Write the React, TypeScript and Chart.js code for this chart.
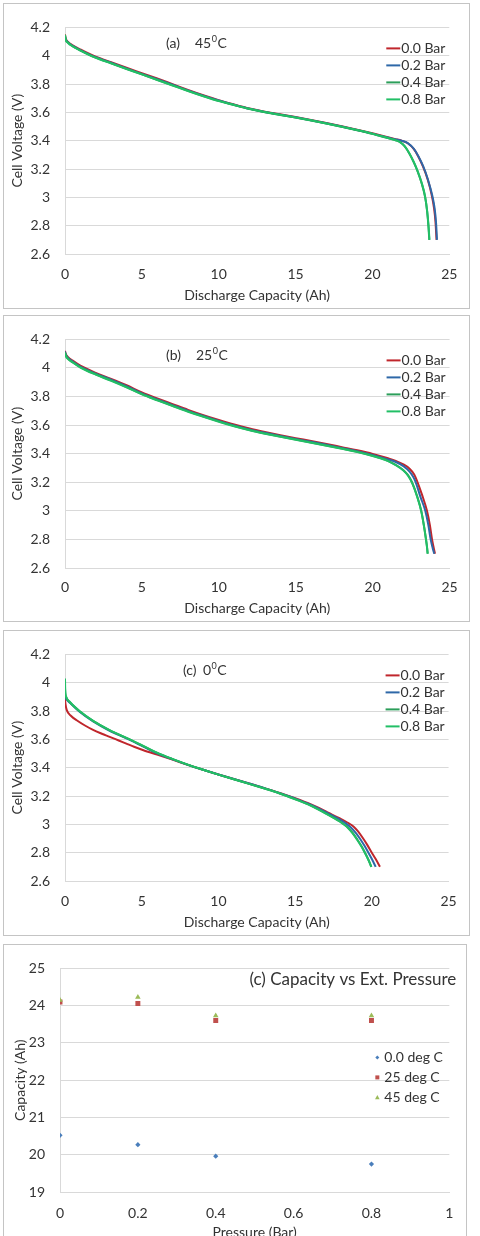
import React, { useEffect, useRef } from "react";
import { Chart, registerables } from "chart.js";

Chart.register(...registerables);

const FONT = "Lato, 'Open Sans', sans-serif";
const TEXT = "#333333";
const GRID = "#d9d9d9";
const FRAME = "#c4c4c4";

// ---- discharge curves: [capacity Ah, cell voltage V] ----
const bar00_45C = [[0,4.15],[0.03,4.128],[0.2,4.098],[0.5,4.074],[1,4.044],[1.6,4.012],[2,3.994],[3,3.954],[4,3.915],[5,3.877],[6,3.839],[7,3.799],[8,3.759],[9,3.721],[10,3.686],[11,3.656],[12,3.628],[13,3.605],[14,3.586],[15,3.567],[16,3.547],[17,3.525],[18,3.502],[19,3.478],[20,3.452],[21,3.424],[21.5,3.411],[21.9,3.4],[22.3,3.382],[22.7,3.34],[23,3.285],[23.3,3.215],[23.6,3.125],[23.85,3.02],[24,2.93],[24.1,2.83],[24.17,2.7]];
const bar02_45C = [[0,4.14],[0.03,4.122],[0.2,4.094],[0.5,4.069],[1,4.04],[1.6,4.008],[2,3.99],[3,3.95],[4,3.91],[5,3.872],[6,3.834],[7,3.795],[8,3.755],[9,3.718],[10,3.684],[11,3.654],[12,3.626],[13,3.603],[14,3.584],[15,3.565],[16,3.545],[17,3.523],[18,3.5],[19,3.476],[20,3.45],[21,3.422],[21.5,3.41],[21.9,3.4],[22.3,3.383],[22.7,3.342],[23,3.288],[23.3,3.22],[23.6,3.13],[23.9,3.01],[24.05,2.92],[24.14,2.82],[24.2,2.7]];
const bar04_45C = [[0,4.145],[0.03,4.12],[0.2,4.092],[0.5,4.067],[1,4.037],[1.6,4.005],[2,3.987],[3,3.947],[4,3.907],[5,3.869],[6,3.83],[7,3.791],[8,3.752],[9,3.715],[10,3.681],[11,3.652],[12,3.624],[13,3.601],[14,3.582],[15,3.563],[16,3.543],[17,3.521],[18,3.498],[19,3.474],[20,3.448],[21,3.418],[21.5,3.403],[21.8,3.39],[22.1,3.36],[22.4,3.31],[22.7,3.245],[22.95,3.18],[23.2,3.1],[23.43,3],[23.56,2.9],[23.64,2.8],[23.7,2.7]];
const bar08_45C = [[0,4.148],[0.03,4.12],[0.2,4.09],[0.5,4.066],[1,4.036],[1.6,4.004],[2,3.986],[3,3.946],[4,3.906],[5,3.868],[6,3.829],[7,3.79],[8,3.751],[9,3.714],[10,3.68],[11,3.652],[12,3.625],[13,3.602],[14,3.583],[15,3.564],[16,3.544],[17,3.522],[18,3.499],[19,3.475],[20,3.449],[21,3.419],[21.5,3.404],[21.8,3.39],[22.1,3.362],[22.4,3.312],[22.7,3.248],[22.95,3.183],[23.2,3.104],[23.43,3.005],[23.56,2.905],[23.65,2.8],[23.71,2.7]];

const bar00_25C = [[0,4.12],[0.03,4.104],[0.2,4.076],[0.5,4.051],[1,4.016],[2,3.966],[3,3.924],[4,3.879],[5,3.829],[6,3.787],[7,3.747],[8,3.707],[9,3.67],[10,3.636],[11,3.604],[12,3.576],[13,3.552],[14,3.53],[15,3.509],[16,3.489],[17,3.468],[18,3.446],[19,3.424],[20,3.399],[21,3.368],[21.5,3.35],[22,3.325],[22.4,3.295],[22.7,3.255],[22.9,3.205],[23.2,3.115],[23.53,3],[23.72,2.9],[23.86,2.8],[23.97,2.74],[24.05,2.7]];
const bar02_25C = [[0,4.115],[0.03,4.1],[0.2,4.07],[0.5,4.045],[1,4.01],[2,3.96],[3,3.918],[4,3.872],[5,3.822],[6,3.78],[7,3.74],[8,3.7],[9,3.664],[10,3.63],[11,3.598],[12,3.57],[13,3.546],[14,3.524],[15,3.503],[16,3.483],[17,3.462],[18,3.44],[19,3.418],[20,3.392],[21,3.36],[21.5,3.342],[22,3.313],[22.4,3.275],[22.65,3.235],[22.8,3.2],[23.1,3.1],[23.42,3],[23.62,2.9],[23.77,2.8],[23.9,2.74],[24,2.7]];
const bar04_25C = [[0,4.11],[0.03,4.095],[0.2,4.066],[0.5,4.041],[1,4.006],[2,3.956],[3,3.913],[4,3.867],[5,3.818],[6,3.776],[7,3.736],[8,3.696],[9,3.66],[10,3.626],[11,3.594],[12,3.566],[13,3.542],[14,3.52],[15,3.499],[16,3.479],[17,3.458],[18,3.436],[19,3.413],[20,3.386],[20.5,3.37],[21,3.35],[21.5,3.322],[22,3.285],[22.3,3.25],[22.56,3.2],[22.9,3.1],[23.16,3],[23.33,2.9],[23.47,2.8],[23.54,2.74],[23.58,2.7]];
const bar08_25C = [[0,4.105],[0.03,4.09],[0.2,4.062],[0.5,4.038],[1,4.003],[2,3.953],[3,3.91],[4,3.864],[5,3.815],[6,3.773],[7,3.733],[8,3.694],[9,3.658],[10,3.624],[11,3.592],[12,3.564],[13,3.54],[14,3.518],[15,3.497],[16,3.477],[17,3.456],[18,3.434],[19,3.411],[20,3.384],[20.5,3.368],[21,3.348],[21.5,3.32],[22,3.282],[22.3,3.246],[22.56,3.196],[22.9,3.095],[23.16,2.995],[23.33,2.895],[23.47,2.795],[23.54,2.74],[23.57,2.7]];

const bar00_0C = [[0,3.885],[0.03,3.85],[0.11,3.808],[0.4,3.765],[0.76,3.735],[1.3,3.698],[1.83,3.667],[2.4,3.64],[2.91,3.618],[3.5,3.592],[4,3.57],[4.5,3.548],[5.07,3.525],[6,3.492],[7,3.457],[8,3.42],[9,3.385],[10,3.352],[11,3.32],[12,3.288],[13,3.256],[14,3.222],[15,3.184],[16,3.142],[17,3.092],[17.5,3.063],[18,3.037],[18.4,3.013],[18.8,2.985],[19.1,2.95],[19.4,2.905],[19.7,2.855],[19.95,2.808],[20.25,2.755],[20.53,2.7]];
const bar02_0C = [[0,3.93],[0.02,3.9],[0.08,3.885],[0.32,3.858],[0.97,3.793],[1.83,3.727],[2.91,3.661],[4,3.607],[5.07,3.551],[6,3.502],[7,3.46],[8,3.42],[9,3.385],[10,3.352],[11,3.32],[12,3.288],[13,3.256],[14,3.22],[15,3.182],[16,3.139],[17,3.087],[17.5,3.058],[18,3.028],[18.3,3.007],[18.63,2.978],[18.95,2.94],[19.25,2.895],[19.5,2.852],[19.75,2.805],[20,2.755],[20.25,2.7]];
const bar04_0C = [[0,3.96],[0.02,3.92],[0.06,3.9],[0.32,3.862],[0.97,3.797],[1.83,3.73],[2.91,3.664],[4,3.61],[5.07,3.554],[6,3.505],[7,3.461],[8,3.421],[9,3.385],[10,3.351],[11,3.318],[12,3.286],[13,3.253],[14,3.218],[15,3.178],[16,3.134],[17,3.078],[17.5,3.048],[17.9,3.022],[18.2,2.999],[18.46,2.975],[18.75,2.94],[19.05,2.893],[19.3,2.85],[19.54,2.803],[19.77,2.752],[19.97,2.7]];
const bar08_0C = [[0,4.03],[0.01,3.97],[0.03,3.925],[0.08,3.9],[0.32,3.864],[0.97,3.798],[1.83,3.731],[2.91,3.665],[4,3.611],[5.07,3.555],[6,3.506],[7,3.462],[8,3.422],[9,3.386],[10,3.351],[11,3.318],[12,3.286],[13,3.253],[14,3.218],[15,3.177],[16,3.133],[17,3.076],[17.5,3.046],[17.9,3.02],[18.2,2.997],[18.46,2.973],[18.75,2.937],[19.05,2.89],[19.3,2.847],[19.54,2.8],[19.77,2.75],[19.96,2.7]];

const barLabels = ["0.0 Bar", "0.2 Bar", "0.4 Bar", "0.8 Bar"];
const barColors = ["#c0262c", "#2e68a8", "#2c9e5a", "#22bf66"];

// ---- capacity vs external pressure ----
const pressures = [0, 0.2, 0.4, 0.8];
const capacity0C = [20.52, 20.27, 19.96, 19.75];
const capacity25C = [24.1, 24.06, 23.6, 23.6];
const capacity45C = [24.15, 24.23, 23.73, 23.73];
const tempLabels = ["0.0 deg C", "25 deg C", "45 deg C"];
const tempColors = ["#4a7ebb", "#c0504d", "#9bbb59"];

// ---- ticks ----
const voltTickValues = [2.6, 2.8, 3, 3.2, 3.4, 3.6, 3.8, 4, 4.2];
const voltTickLabels = ["2.6", "2.8", "3", "3.2", "3.4", "3.6", "3.8", "4", "4.2"];
const dischargeTickValues = [0, 5, 10, 15, 20, 25];
const dischargeTickLabels = ["0", "5", "10", "15", "20", "25"];
const capacityTickValues = [19, 20, 21, 22, 23, 24, 25];
const capacityTickLabels = ["19", "20", "21", "22", "23", "24", "25"];
const pressureTickValues = [0, 0.2, 0.4, 0.6, 0.8, 1];
const pressureTickLabels = ["0", "0.2", "0.4", "0.6", "0.8", "1"];

type Box = {
  top: number; height: number; width: number;
  yAxisWidth: number; xAxisHeight: number;
  padTop: number; padRight: number;
  xTickPad: number; yTitlePad: number; xTitlePad: number;
};

function fixedScale(values: number[], labels: string[]) {
  return {
    afterBuildTicks: (scale: any) => {
      scale.ticks = values.map((v) => ({ value: v }));
    },
    callback: (_v: any, i: number) => labels[i],
  };
}

// temperature written as value, raised small "0", then "C"
function drawDegree(ctx: CanvasRenderingContext2D, x: number, y: number, value: string) {
  ctx.font = `14px ${FONT}`;
  ctx.fillText(value, x, y);
  let w = ctx.measureText(value).width;
  ctx.font = `9px ${FONT}`;
  ctx.fillText("0", x + w + 0.5, y - 4);
  w += ctx.measureText("0").width + 1;
  ctx.font = `14px ${FONT}`;
  ctx.fillText("C", x + w, y);
}

function voltageConfig(series: number[][][], tag: string, tagX: number, temp: string, tempX: number, box: Box) {
  const x = fixedScale(dischargeTickValues, dischargeTickLabels);
  const y = fixedScale(voltTickValues, voltTickLabels);
  const overlay = {
    id: "panelOverlay",
    afterDraw(chart: any) {
      const { ctx, chartArea: a } = chart;
      ctx.save();
      ctx.fillStyle = TEXT;
      ctx.textBaseline = "middle";
      ctx.textAlign = "left";
      ctx.font = `14px ${FONT}`;
      const ty = a.top + 16;
      ctx.fillText(tag, a.left + tagX, ty);
      drawDegree(ctx, a.left + tempX, ty, temp);
      ctx.font = `14px ${FONT}`;
      barLabels.forEach((lab, i) => {
        const ly = a.top + 21 + i * 17;
        const lx = a.right - 63;
        ctx.strokeStyle = barColors[i];
        ctx.lineWidth = 2;
        ctx.beginPath();
        ctx.moveTo(lx, ly);
        ctx.lineTo(lx + 14, ly);
        ctx.stroke();
        ctx.fillStyle = TEXT;
        ctx.fillText(lab, lx + 15, ly);
      });
      ctx.restore();
    },
  };
  return {
    type: "line",
    data: {
      datasets: series.map((pts, i) => ({
        label: barLabels[i],
        data: pts.map(([px, py]) => ({ x: px, y: py })),
        borderColor: barColors[i],
        backgroundColor: barColors[i],
        borderWidth: 2,
        pointRadius: 0,
        fill: false,
        cubicInterpolationMode: "monotone",
        order: 4 - i,
      })),
    },
    options: {
      animation: false,
      responsive: false,
      maintainAspectRatio: false,
      layout: { padding: { top: box.padTop, right: box.padRight, bottom: 0, left: 0 } },
      plugins: { legend: { display: false }, tooltip: { enabled: false } },
      scales: {
        x: {
          type: "linear",
          min: 0,
          max: 25,
          afterBuildTicks: x.afterBuildTicks,
          afterFit: (s: any) => { s.height = box.xAxisHeight; },
          grid: { display: false, drawTicks: false },
          border: { display: true, color: GRID },
          ticks: { callback: x.callback, autoSkip: false, maxRotation: 0, padding: box.xTickPad, color: TEXT, font: { family: FONT, size: 14 } },
          title: { display: true, text: "Discharge Capacity (Ah)", color: TEXT, font: { family: FONT, size: 14 }, padding: { top: 0, bottom: box.xTitlePad } },
        },
        y: {
          type: "linear",
          min: 2.6,
          max: 4.2,
          afterBuildTicks: y.afterBuildTicks,
          afterFit: (s: any) => { s.width = box.yAxisWidth; },
          grid: { color: GRID, drawTicks: false },
          border: { display: true, color: GRID },
          ticks: { callback: y.callback, autoSkip: false, padding: 15, color: TEXT, font: { family: FONT, size: 14 } },
          title: { display: true, text: "Cell Voltage (V)", color: TEXT, font: { family: FONT, size: 14 }, padding: { top: box.yTitlePad, bottom: 0 } },
        },
      },
    },
    plugins: [overlay],
  };
}

function capacityConfig(box: Box) {
  const x = fixedScale(pressureTickValues, pressureTickLabels);
  const y = fixedScale(capacityTickValues, capacityTickLabels);
  const series = [capacity0C, capacity25C, capacity45C];
  const styles = ["rectRot", "rect", "triangle"];
  const radii = [2.6, 3.5, 3.2];
  const overlay = {
    id: "capacityOverlay",
    afterDraw(chart: any) {
      const { ctx, chartArea: a } = chart;
      ctx.save();
      ctx.fillStyle = TEXT;
      ctx.textBaseline = "middle";
      ctx.textAlign = "right";
      ctx.font = `17px ${FONT}`;
      ctx.fillText("(c) Capacity vs Ext. Pressure", a.right + 7, a.top + 11);
      ctx.textAlign = "left";
      ctx.font = `14px ${FONT}`;
      tempLabels.forEach((lab, i) => {
        const ly = a.top + 89 + i * 20;
        const mx = a.right - 72;
        ctx.fillStyle = tempColors[i];
        ctx.beginPath();
        if (i === 0) {
          ctx.moveTo(mx, ly - 2);
          ctx.lineTo(mx + 2, ly);
          ctx.lineTo(mx, ly + 2);
          ctx.lineTo(mx - 2, ly);
        } else if (i === 1) {
          ctx.rect(mx - 2, ly - 2, 4, 4);
        } else {
          ctx.moveTo(mx, ly - 2.5);
          ctx.lineTo(mx + 2.3, ly + 1.8);
          ctx.lineTo(mx - 2.3, ly + 1.8);
        }
        ctx.closePath();
        ctx.fill();
        ctx.fillStyle = TEXT;
        ctx.fillText(lab, a.right - 65, ly);
      });
      ctx.restore();
    },
  };
  return {
    type: "scatter",
    data: {
      datasets: series.map((vals, i) => ({
        label: tempLabels[i],
        data: vals.map((v, j) => ({ x: pressures[j], y: v })),
        backgroundColor: tempColors[i],
        borderColor: tempColors[i],
        borderWidth: 0,
        pointStyle: styles[i],
        pointRadius: radii[i],
        showLine: false,
        order: 3 - i,
      })),
    },
    options: {
      animation: false,
      responsive: false,
      maintainAspectRatio: false,
      layout: { padding: { top: box.padTop, right: box.padRight, bottom: 0, left: 0 } },
      plugins: { legend: { display: false }, tooltip: { enabled: false } },
      scales: {
        x: {
          type: "linear",
          min: 0,
          max: 1,
          afterBuildTicks: x.afterBuildTicks,
          afterFit: (s: any) => { s.height = box.xAxisHeight; },
          grid: { display: false, drawTicks: false },
          border: { display: true, color: GRID },
          ticks: { callback: x.callback, autoSkip: false, maxRotation: 0, padding: box.xTickPad, color: TEXT, font: { family: FONT, size: 14 } },
          title: { display: true, text: "Pressure (Bar)", color: TEXT, font: { family: FONT, size: 14 }, padding: { top: 0, bottom: box.xTitlePad } },
        },
        y: {
          type: "linear",
          min: 19,
          max: 25,
          afterBuildTicks: y.afterBuildTicks,
          afterFit: (s: any) => { s.width = box.yAxisWidth; },
          grid: { color: GRID, drawTicks: false },
          border: { display: true, color: GRID },
          ticks: { callback: y.callback, autoSkip: false, padding: 15, color: TEXT, font: { family: FONT, size: 14 } },
          title: { display: true, text: "Capacity (Ah)", color: TEXT, font: { family: FONT, size: 14 }, padding: { top: box.yTitlePad, bottom: 0 } },
        },
      },
    },
    plugins: [overlay],
  };
}

function Panel({ frame, box, make }: { frame: { top: number; width: number; height: number }; box: Box; make: () => any }) {
  const ref = useRef<HTMLCanvasElement>(null);
  useEffect(() => {
    const chart = new Chart(ref.current as HTMLCanvasElement, make() as any);
    return () => chart.destroy();
  }, []);
  return (
    <>
      <div
        style={{
          position: "absolute",
          left: 3,
          top: frame.top,
          width: frame.width,
          height: frame.height,
          border: `1px solid ${FRAME}`,
          background: "#fff",
        }}
      />
      <canvas
        ref={ref}
        width={box.width}
        height={box.height}
        style={{ position: "absolute", left: 4, top: box.top, width: box.width, height: box.height }}
      />
    </>
  );
}

const box45: Box = { top: 4, height: 304, width: 465, yAxisWidth: 61, xAxisHeight: 54, padTop: 8, padRight: 18, xTickPad: 11.6, yTitlePad: 4.6, xTitlePad: 4.6 };
const box25: Box = { top: 316, height: 304, width: 465, yAxisWidth: 61, xAxisHeight: 52, padTop: 10, padRight: 18, xTickPad: 11.3, yTitlePad: 4.6, xTitlePad: 3.6 };
const box0: Box = { top: 631, height: 304, width: 465, yAxisWidth: 61, xAxisHeight: 54, padTop: 8, padRight: 18, xTickPad: 12.3, yTitlePad: 4.6, xTitlePad: 4.6 };
const boxCap: Box = { top: 945, height: 300, width: 462, yAxisWidth: 56, xAxisHeight: 53, padTop: 12, padRight: 16, xTickPad: 12.6, yTitlePad: 7.6, xTitlePad: 4.6 };

export default function App() {
  return (
    <div
      style={{
        position: "fixed",
        left: 0,
        top: 0,
        width: 480,
        height: 1236,
        overflow: "hidden",
        background: "#fff",
      }}
    >
      <Panel
        frame={{ top: 3, width: 465, height: 304 }}
        box={box45}
        make={() => voltageConfig([bar00_45C, bar02_45C, bar04_45C, bar08_45C], "(a)", 101, "45", 130, box45)}
      />
      <Panel
        frame={{ top: 315, width: 465, height: 305 }}
        box={box25}
        make={() => voltageConfig([bar00_25C, bar02_25C, bar04_25C, bar08_25C], "(b)", 101, "25", 131, box25)}
      />
      <Panel
        frame={{ top: 630, width: 465, height: 304 }}
        box={box0}
        make={() => voltageConfig([bar00_0C, bar02_0C, bar04_0C, bar08_0C], "(c)", 118, "0", 138, box0)}
      />
      <Panel
        frame={{ top: 944, width: 462, height: 320 }}
        box={boxCap}
        make={() => capacityConfig(boxCap)}
      />
    </div>
  );
}
